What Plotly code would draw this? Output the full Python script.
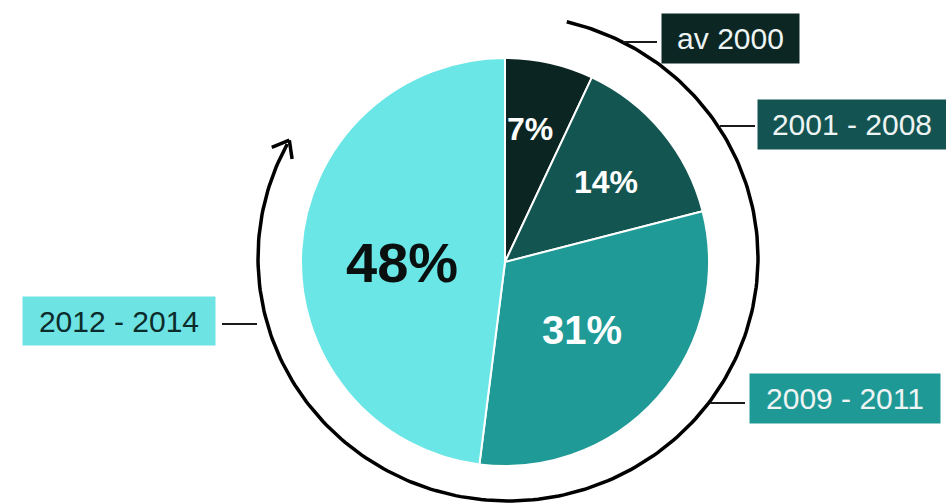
import math
import plotly.graph_objects as go

# ---- data ----
categories = ["av 2000", "2001 - 2008", "2009 - 2011", "2012 - 2014"]
shares = [7, 14, 31, 48]

# ---- style ----
W, H = 946, 503
slice_colors = ["#0b2523", "#125551", "#1f9a97", "#6ae6e6"]
box_colors = ["#0c2624", "#135452", "#1f9996", "#6de3e3"]
box_text_colors = ["#eef4f3", "#eef4f3", "#eef4f3", "#0c2c2c"]
pct_colors = ["white", "white", "white", "#0a0f0f"]
pct_sizes = [32, 32, 40, 56]
pct_radius = [135, 129, 103, 103]
pct_angle_offset = [-2, 1, 0, -3.6]

cx, cy, R = 505, 262, 204  # pie centre / radius in px

# label boxes: (centre x, centre y, width, height) in px
boxes = [(730.5, 38.5, 137, 49), (852, 124.5, 188, 49),
         (845, 398.5, 190, 49), (119, 321, 192, 48)]
# leader lines: (x0, x1, y)
leaders = [(623, 657, 42), (720, 755, 126), (710, 745, 403), (222, 257, 324)]

# surrounding arrow arc (slightly elliptical)
acx, acy, arx, ary = 508, 258, 250, 243
arc_start, arc_end = 13.6, 298

fig = go.Figure()

fig.add_trace(go.Pie(
    labels=categories, values=shares, sort=False, direction="clockwise",
    rotation=0, marker=dict(colors=slice_colors, line=dict(color="white", width=2)),
    textinfo="none", hoverinfo="label+percent", showlegend=False,
    domain=dict(x=[(cx - R) / W, (cx + R) / W], y=[(H - cy - R) / H, (H - cy + R) / H]),
))

# arc
n = 240
ths = [math.radians(arc_start + (arc_end - arc_start) * i / (n - 1)) for i in range(n)]
fig.add_trace(go.Scatter(
    x=[acx + arx * math.sin(t) for t in ths], y=[acy - ary * math.cos(t) for t in ths],
    mode="lines", line=dict(color="black", width=3.5), hoverinfo="skip", showlegend=False))

# arrowhead (open V) at end of arc
te = math.radians(arc_end + 1)
tipx, tipy = acx + arx * math.sin(te), acy - ary * math.cos(te)
dx, dy = arx * math.cos(te), ary * math.sin(te)  # tangent direction (clockwise)
back = math.atan2(-dy, -dx)
L = 19
legs_x, legs_y = [], []
for s in (-1, 1):
    a = back + s * math.radians(38)
    legs_x += [tipx + L * math.cos(a), tipx, None]
    legs_y += [tipy + L * math.sin(a), tipy, None]
fig.add_trace(go.Scatter(x=legs_x, y=legs_y, mode="lines",
                         line=dict(color="black", width=3.5), hoverinfo="skip", showlegend=False))

# leader lines
for x0, x1, y in leaders:
    fig.add_shape(type="line", xref="x", yref="y", x0=x0, x1=x1, y0=y, y1=y,
                  line=dict(color="#1a1a1a", width=2))

# label boxes
for name, (bx, by, bw, bh), bc, tc in zip(categories, boxes, box_colors, box_text_colors):
    fig.add_annotation(x=bx, y=by, xref="x", yref="y", text=name, showarrow=False,
                       width=bw, height=bh, bgcolor=bc, borderpad=0, align="center",
                       valign="middle",
                       font=dict(family="Liberation Sans, Arial, sans-serif", size=30, color=tc))

# percentage labels positioned along slice bisectors
cum = 0
total = sum(shares)
for v, col, sz, rr, off in zip(shares, pct_colors, pct_sizes, pct_radius, pct_angle_offset):
    mid = (cum + v / 2) / total * 360 + off
    cum += v
    t = math.radians(mid)
    fig.add_annotation(x=cx + rr * math.sin(t), y=cy - rr * math.cos(t), xref="x", yref="y",
                       text=f"<b>{v}%</b>", showarrow=False,
                       font=dict(family="Liberation Sans, Arial, sans-serif", size=sz, color=col))

fig.update_layout(
    width=W, height=H, margin=dict(l=0, r=0, t=0, b=0),
    paper_bgcolor="white", plot_bgcolor="rgba(0,0,0,0)",
    xaxis=dict(range=[0, W], visible=False, domain=[0, 1], fixedrange=True),
    yaxis=dict(range=[H, 0], visible=False, domain=[0, 1], fixedrange=True),
)

fig.write_html("out.html", config={"displayModeBar": False},
               post_script="document.body.style.margin='0';document.body.style.overflow='hidden';")
